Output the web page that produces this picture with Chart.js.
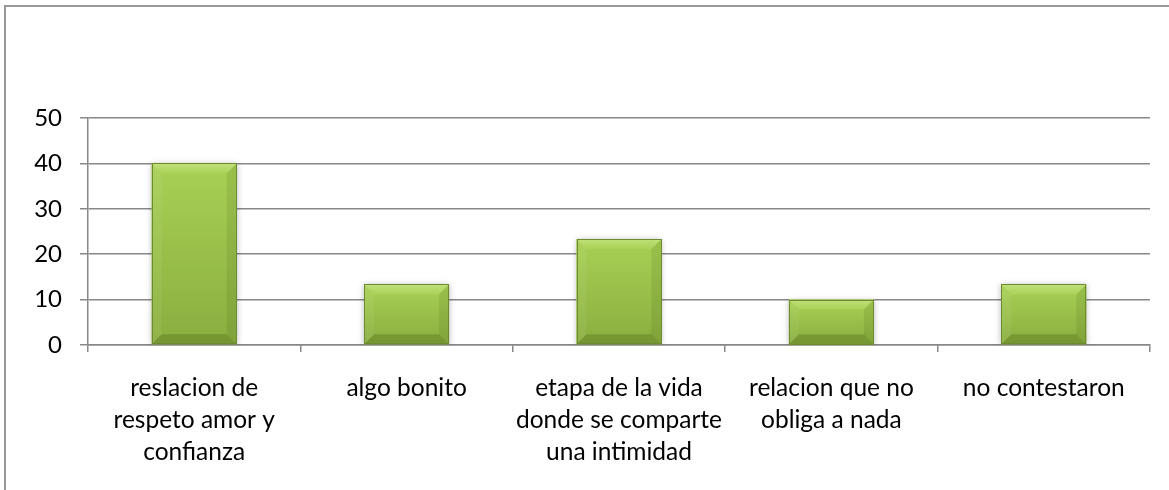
<!DOCTYPE html>
<html><head><meta charset="utf-8">
<script src="https://cdn.jsdelivr.net/npm/chart.js@4"></script>
<style>
html,body{margin:0;padding:0;background:#fff;overflow:hidden;}
#wrap{position:relative;width:1169px;height:490px;}
#frame{position:absolute;left:4px;top:5px;width:1170px;height:490px;border-left:2px solid #999;border-top:2px solid #999;}
canvas{position:absolute;left:0;top:0;}
</style></head>
<body><div id="wrap"><div id="frame"></div><canvas id="c" width="1169" height="490"></canvas></div>
<script>
const categories = [
  ["reslacion de", "respeto amor y", "confianza"],
  "algo bonito",
  ["etapa de la vida", "donde se comparte", "una intimidad"],
  ["relacion que no", "obliga a nada"],
  "no contestaron"
];
const values = [40, 13.33, 23.33, 10, 13.33];
const yMin = 0, yMax = 50, yStep = 10;

const bevelPlugin = {
  id: 'bevel',
  beforeDatasetDraw(chart) {
    const ctx = chart.ctx;
    ctx.save();
    ctx.shadowColor = 'rgba(0,0,0,0.30)';
    ctx.shadowBlur = 6;
    ctx.shadowOffsetY = 1;
  },
  afterDatasetDraw(chart, args) {
    const ctx = chart.ctx;
    ctx.restore();
    const meta = args.meta;
    meta.data.forEach(el => {
      const p = el.getProps(['x', 'y', 'base', 'width'], true);
      const l = p.x - p.width / 2, r = p.x + p.width / 2;
      const t = Math.min(p.y, p.base), b = Math.max(p.y, p.base);
      const h = b - t;
      const bv = Math.min(10, h / 2.2, p.width / 2.2);
      ctx.save();
      let g = ctx.createLinearGradient(0, t, 0, b);
      g.addColorStop(0, '#a8d055');
      g.addColorStop(1, '#8aae3f');
      ctx.fillStyle = g;
      ctx.fillRect(l, t, r - l, h);
      g = ctx.createLinearGradient(0, t, 0, t + bv);
      g.addColorStop(0, '#c0e07a');
      g.addColorStop(1, '#aad257');
      ctx.fillStyle = g;
      ctx.beginPath();
      ctx.moveTo(l, t); ctx.lineTo(r, t); ctx.lineTo(r - bv, t + bv); ctx.lineTo(l + bv, t + bv); ctx.closePath(); ctx.fill();
      ctx.fillStyle = 'rgba(255,255,255,0.06)';
      ctx.beginPath();
      ctx.moveTo(l, t); ctx.lineTo(l + bv, t + bv); ctx.lineTo(l + bv, b - bv); ctx.lineTo(l, b); ctx.closePath(); ctx.fill();
      ctx.fillStyle = 'rgba(60,80,20,0.12)';
      ctx.beginPath();
      ctx.moveTo(r, t); ctx.lineTo(r - bv, t + bv); ctx.lineTo(r - bv, b - bv); ctx.lineTo(r, b); ctx.closePath(); ctx.fill();
      ctx.fillStyle = 'rgba(60,85,15,0.28)';
      ctx.beginPath();
      ctx.moveTo(l, b); ctx.lineTo(r, b); ctx.lineTo(r - bv, b - bv); ctx.lineTo(l + bv, b - bv); ctx.closePath(); ctx.fill();
      ctx.strokeStyle = '#6e8b2f';
      ctx.lineWidth = 1;
      ctx.strokeRect(Math.round(l) + 0.5, Math.round(t) + 0.5, Math.round(r - l) - 1, Math.round(h) - 1);
      ctx.restore();
    });
  }
};

new Chart(document.getElementById('c'), {
  type: 'bar',
  data: {
    labels: categories,
    datasets: [{
      data: values,
      backgroundColor: '#98bf46',
      borderWidth: 0,
      barPercentage: 0.4,
      categoryPercentage: 1.0
    }]
  },
  plugins: [bevelPlugin],
  options: {
    responsive: false,
    animation: false,
    devicePixelRatio: 1,
    layout: { padding: { left: 0, right: 19, top: 118, bottom: 0 } },
    plugins: { legend: { display: false }, tooltip: { enabled: false } },
    scales: {
      x: {
        afterFit(s) { s.height = 145; },
        grid: { drawOnChartArea: false, drawTicks: true, tickLength: 7, color: '#888', lineWidth: 1.5, offset: true },
        border: { display: true, color: '#888', width: 1.5 },
        ticks: {
          color: '#000', padding: 20, maxRotation: 0, autoSkip: false,
          font: { family: 'Lato, "Open Sans", sans-serif', size: 24.5, lineHeight: 1.31 }
        }
      },
      y: {
        min: yMin, max: yMax,
        afterFit(s) { s.width = 88; },
        grid: { color: '#888', lineWidth: 1.5, tickLength: 8, drawTicks: true },
        border: { display: true, color: '#888', width: 1.5 },
        ticks: {
          stepSize: yStep, color: '#000', padding: 18,
          font: { family: 'Lato, "Open Sans", sans-serif', size: 24 }
        }
      }
    }
  }
});
</script>
</body></html>
